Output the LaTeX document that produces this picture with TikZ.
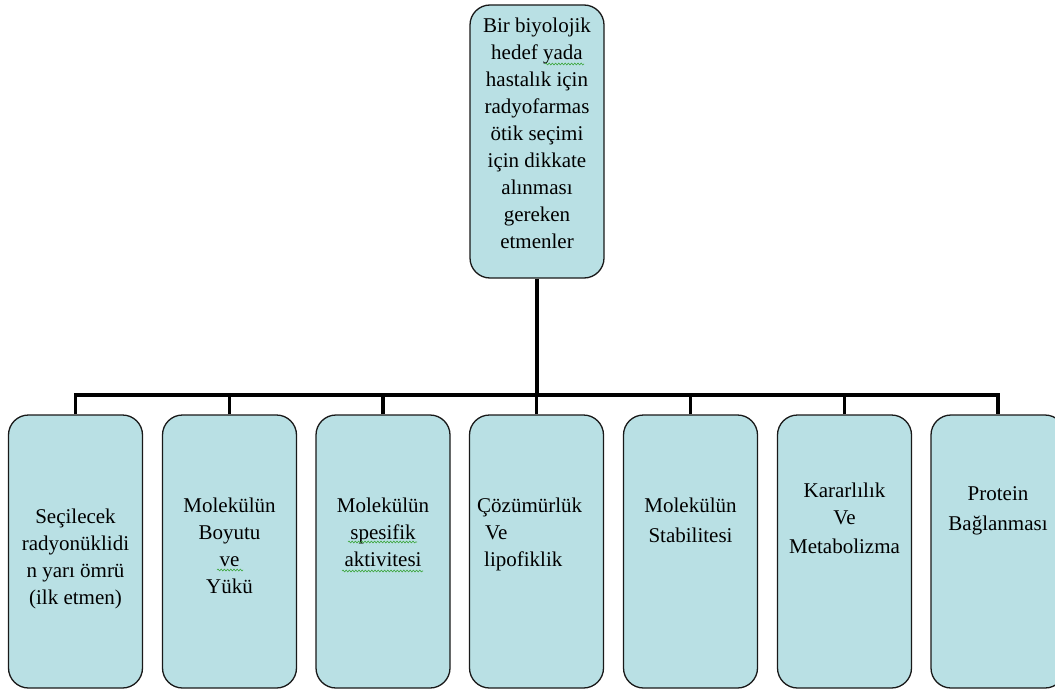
\documentclass[tikz,border=0pt]{standalone}
\usepackage{fontspec}
\setmainfont{Liberation Serif}
\newfontfamily\tnr{Liberation Serif}
\usetikzlibrary{decorations.pathmorphing}
\definecolor{boxfill}{HTML}{B9E0E4}
\definecolor{squig}{HTML}{3BA53B}
\newcommand\lns[1]{\begin{tabular}[t]{@{}c@{}}#1\end{tabular}}
\newcommand\lnsl[1]{\begin{tabular}[t]{@{}l@{}}#1\end{tabular}}
\begin{document}
\begin{tikzpicture}[x=1pt,y=-1pt,
 box/.style={draw=black!90, line width=1.3pt, fill=boxfill, rounded corners=20pt, minimum width=134pt, minimum height=273pt, inner sep=0pt},
 txt/.style={anchor=base, inner sep=0pt, font=\tnr\fontsize{21}{27}\selectfont, text=black},
 conn/.style={line width=3.6pt, line join=miter},
 sq/.style={draw=squig, line width=0.6pt, decorate, decoration={snake, segment length=3.2pt, amplitude=0.9pt}}]
\useasboundingbox (0,0) rectangle (1055,693);
\clip (0,0) rectangle (1055,693);

\node[box] (top) at (537,141.5) {};
\foreach \i/\x in {1/75.5,2/229.5,3/383,4/536.5,5/690.5,6/844.5,7/998}
  \node[box] (b\i) at (\x,551.5) {};

\coordinate (bus) at (537,395);
\draw[conn] (top.south) -- (bus);
\draw[conn] (b1.north) |- (bus) -| (b7.north);
\foreach \i in {2,...,6}
  \draw[conn] (b\i.north) -- (b\i.north |- bus);

\node[txt] (ttop) at (537,33) {\lns{Bir biyolojik\\hedef yada\\hastalık için\\radyofarmas\\ötik seçimi\\için dikkate\\alınması\\gereken\\etmenler}};
\node[txt] (t1) at (75.5,523) {\lns{Seçilecek\\radyonüklidi\\n yarı ömrü\\(ilk etmen)}};
\node[txt] (t2) at (229.5,512) {\lns{Molekülün\\Boyutu\\ve\\Yükü}};
\node[txt] (t3) at (383,512) {\lns{Molekülün\\spesifik\\aktivitesi}};
\node[txt, anchor=base west] (t4) at (477,512) {\lnsl{Çözümürlük\\\hspace*{8pt}Ve\\\hspace*{7pt}lipofiklik}};
\node[txt] (t5) at (690.5,512) {\lns{Molekülün\\[3pt]Stabilitesi}};
\node[txt] (t6) at (844.5,497) {\lns{Kararlılık\\Ve\\[2pt]Metabolizma}};
\node[txt] (t7) at (998,500) {\lns{Protein\\[3pt]Bağlanması}};

\draw[sq] (545,64) -- (584,64);
\draw[sq] (217,570) -- (243,570);
\draw[sq] (348,542) -- (417,542);
\draw[sq] (342,571) -- (423,571);
\end{tikzpicture}
\end{document}
